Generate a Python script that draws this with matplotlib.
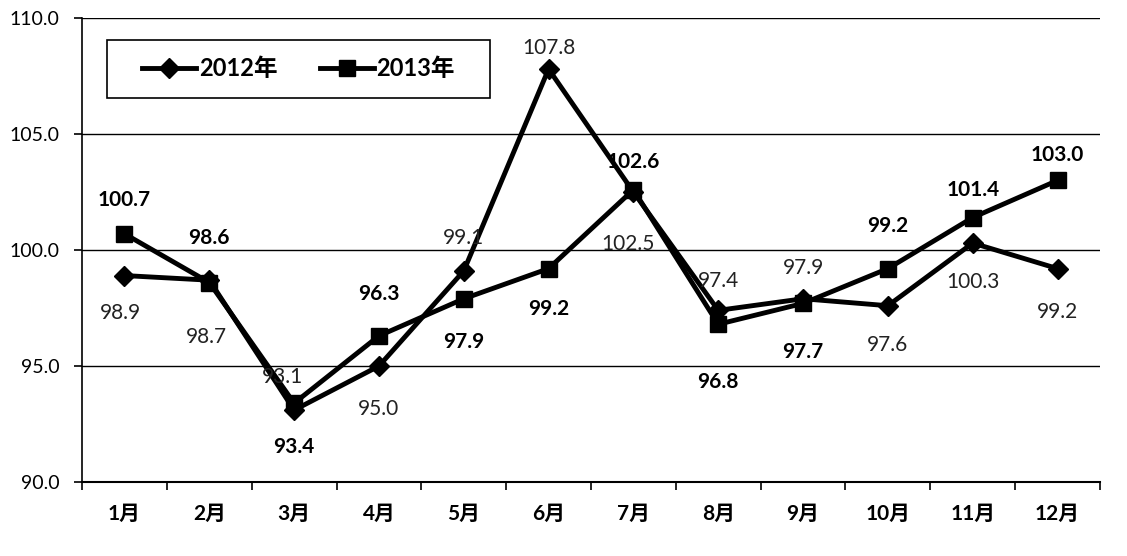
import matplotlib.pyplot as plt
from matplotlib.patches import Rectangle
from matplotlib.ticker import FixedLocator

plt.rcParams['font.family'] = ['Lato', 'Noto Sans CJK SC', 'DejaVu Sans']

months = ['1月', '2月', '3月', '4月', '5月', '6月', '7月', '8月', '9月', '10月', '11月', '12月']
y2012 = [98.9, 98.7, 93.1, 95.0, 99.1, 107.8, 102.5, 97.4, 97.9, 97.6, 100.3, 99.2]
y2013 = [100.7, 98.6, 93.4, 96.3, 97.9, 99.2, 102.6, 96.8, 97.7, 99.2, 101.4, 103.0]

# label offsets in pixels (dx, dy) relative to each point
off2012 = [(-4, -37), (-3, -57), (-12, 33), (0, -43), (0, 33), (0, 21),
           (-5, -52), (0, 29), (0, 31), (0, -39), (0, -39), (0, -43)]
off2013 = [(0, 34), (0, 45), (0, -44), (0, 42), (0, -43), (0, -40),
           (0, 28), (0, -58), (0, -49), (0, 43), (0, 28), (0, 25)]

fig = plt.figure(figsize=(11.27, 5.56), dpi=100)
ax = fig.add_axes([0.0728, 0.133, 0.9032, 0.8346])

x = list(range(len(months)))
ax.plot(x, y2012, color='black', lw=3.5, marker='D', ms=10, label='2012年', zorder=3)
ax.plot(x, y2013, color='black', lw=3.5, marker='s', ms=12, label='2013年', zorder=3)

for i, v in enumerate(y2012):
    ax.annotate(f'{v:.1f}', (i, v), xytext=off2012[i], textcoords='offset pixels',
                ha='center', va='center', fontsize=15, color='#222222')
for i, v in enumerate(y2013):
    ax.annotate(f'{v:.1f}', (i, v), xytext=off2013[i], textcoords='offset pixels',
                ha='center', va='center', fontsize=15, fontweight='bold', color='black')

ax.set_xlim(-0.5, 11.5)
ax.set_ylim(90, 110)
ax.set_yticks([90, 95, 100, 105, 110])
ax.set_yticklabels([f'{t:.1f}' for t in [90, 95, 100, 105, 110]], fontsize=14)
ax.yaxis.grid(True, color='black', lw=1)
ax.set_axisbelow(True)

ax.set_xticks(x)
ax.set_xticklabels(months, fontsize=15, fontweight='bold')
ax.xaxis.set_minor_locator(FixedLocator([i - 0.5 for i in range(13)]))
ax.tick_params(axis='x', which='major', length=0, pad=16)
ax.tick_params(axis='x', which='minor', length=6, width=1.2, direction='out')
ax.tick_params(axis='y', length=6, width=1.2, direction='out', pad=10)

for s in ['top', 'right']:
    ax.spines[s].set_visible(False)
ax.spines['left'].set_linewidth(1.2)
ax.spines['bottom'].set_linewidth(1.5)

# legend box drawn separately so it can be wider than its contents
ax.add_patch(Rectangle((0.0246, 0.828), 0.3762, 0.125, transform=ax.transAxes,
                       facecolor='white', edgecolor='black', lw=1.2, zorder=4))
leg = ax.legend(loc='center', bbox_to_anchor=(0.2127, 0.8905), ncol=2,
                frameon=False, prop={'size': 17, 'weight': 'bold'},
                handlelength=2.3, handletextpad=0.1, columnspacing=1.8)
leg.set_zorder(5)

fig.savefig('out.png', dpi=100)
